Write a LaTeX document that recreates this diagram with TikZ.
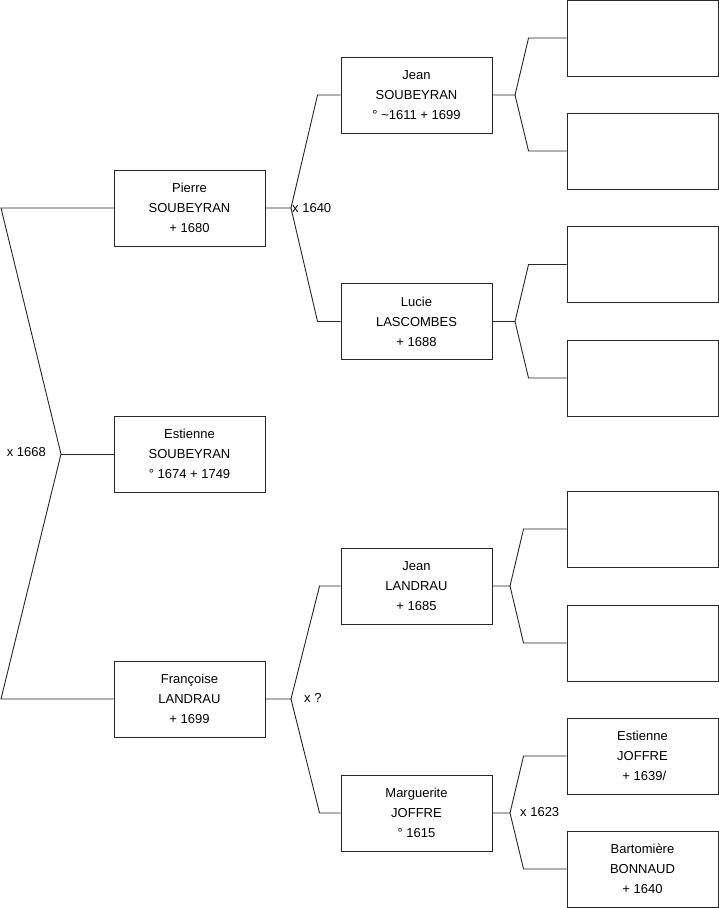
\documentclass[tikz,border=0pt]{standalone}
\usepackage{fontspec}
\setmainfont{Liberation Sans}
\usetikzlibrary{calc}
\begin{document}
\begin{tikzpicture}[x=1pt,y=-1pt,
  person/.style={draw=black!85,line width=0.9pt,minimum width=151pt,minimum height=76pt,
    inner sep=0pt,align=center,font=\fontsize{13}{20}\selectfont},
  link/.style={draw=black!85,line width=0.9pt},
  lbl/.style={font=\fontsize{13}{15}\selectfont,inner sep=0pt}]
\useasboundingbox (0,0) rectangle (719,908);
% generation 1
\node[person] (pierre) at (189.5,208) {Pierre\\SOUBEYRAN\\+ 1680};
\node[person] (estienne) at (189.5,454) {Estienne\\SOUBEYRAN\\° 1674 + 1749};
\node[person] (francoise) at (189.5,699) {Françoise\\LANDRAU\\+ 1699};
% generation 2
\node[person] (jeanS) at (416.5,95) {Jean\\SOUBEYRAN\\° \textasciitilde1611 + 1699};
\node[person] (lucie) at (416.5,321.5) {Lucie\\LASCOMBES\\+ 1688};
\node[person] (jeanL) at (416.5,586) {Jean\\LANDRAU\\+ 1685};
\node[person] (marg) at (416.5,813) {Marguerite\\JOFFRE\\° 1615};
% generation 3
\node[person] (g1) at (642.5,38) {};
\node[person] (g2) at (642.5,151) {};
\node[person] (g3) at (642.5,264.5) {};
\node[person] (g4) at (642.5,378) {};
\node[person] (g5) at (642.5,529) {};
\node[person] (g6) at (642.5,643) {};
\node[person] (g7) at (642.5,756) {Estienne\\JOFFRE\\\ + 1639/};
\node[person] (g8) at (642.5,869) {Bartomière\\BONNAUD\\+ 1640};
% left bracket
\coordinate (L) at (61,454);
\coordinate (Ltop) at (1,208);
\coordinate (Lbot) at (1,699);
\draw[link] (pierre.west) -- (Ltop) -- (L) -- (Lbot) -- (francoise.west);
\draw[link] (L) -- (estienne.west);
\node[lbl,anchor=east] (m1668) at (46,452) {x 1668};
% gen 2 brackets
\coordinate (t1) at (291,208);
\draw[link] (pierre.east) -- (t1) -- ($(jeanS.west)+(-23,0)$) -- (jeanS.west);
\draw[link] (t1) -- ($(lucie.west)+(-23,0)$) -- (lucie.west);
\node[lbl,anchor=west] (m1640) at (292,208) {x 1640};
\coordinate (t2) at (291,699);
\draw[link] (francoise.east) -- (t2) -- ($(jeanL.west)+(-21,0)$) -- (jeanL.west);
\draw[link] (t2) -- ($(marg.west)+(-21,0)$) -- (marg.west);
\node[lbl,anchor=west] (mq) at (304,698) {x ?};
% gen 3 brackets
\coordinate (t3) at (515,95);
\draw[link] (jeanS.east) -- (t3) -- ($(g1.west)+(-38,0)$) -- (g1.west);
\draw[link] (t3) -- ($(g2.west)+(-38,0)$) -- (g2.west);
\coordinate (t4) at (515,321.5);
\draw[link] (lucie.east) -- (t4) -- ($(g3.west)+(-38,0)$) -- (g3.west);
\draw[link] (t4) -- ($(g4.west)+(-38,0)$) -- (g4.west);
\coordinate (t5) at (510,586);
\draw[link] (jeanL.east) -- (t5) -- ($(g5.west)+(-43,0)$) -- (g5.west);
\draw[link] (t5) -- ($(g6.west)+(-43,0)$) -- (g6.west);
\coordinate (t6) at (510,813);
\draw[link] (marg.east) -- (t6) -- ($(g7.west)+(-43,0)$) -- (g7.west);
\draw[link] (t6) -- ($(g8.west)+(-43,0)$) -- (g8.west);
\node[lbl,anchor=west] (m1623) at (520,812) {x 1623};
\end{tikzpicture}
\end{document}
